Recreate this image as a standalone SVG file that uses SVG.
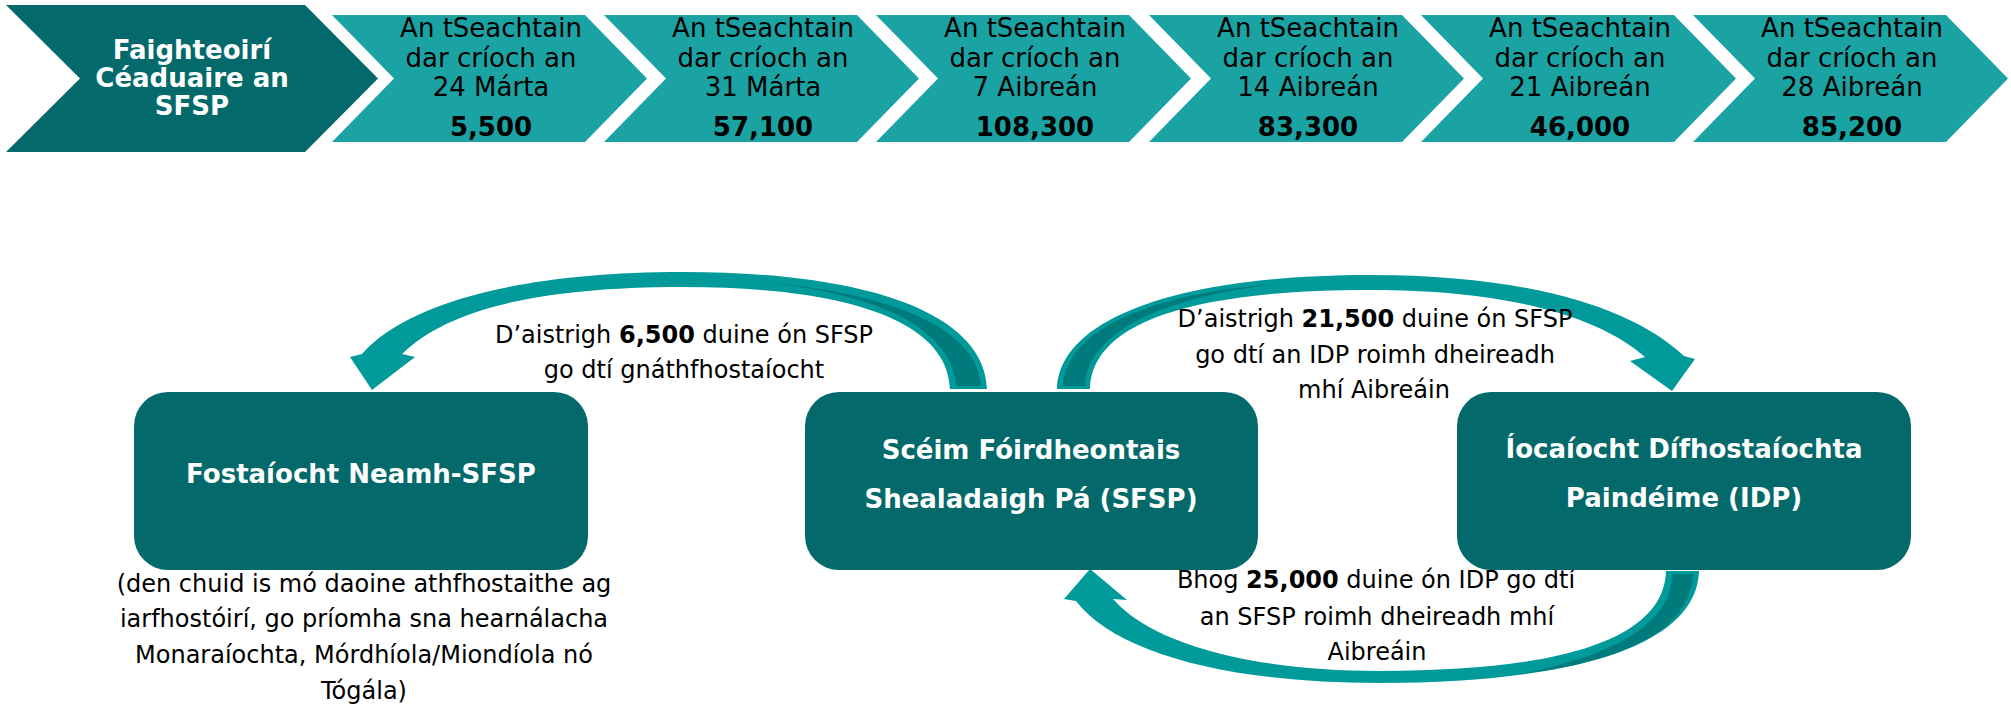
<svg xmlns="http://www.w3.org/2000/svg" width="2011" height="707" viewBox="0 0 2011 707">
<style>
.dark{fill:#03696A}
.light{fill:#1BA3A4}
.arrow{fill:#009A9A}
.arrowin{fill:#007B7B}
text{font-family:"DejaVu Sans","Liberation Sans",sans-serif;text-anchor:middle}
.ct{font-size:26px;fill:#000}
.cn{font-size:26px;font-weight:bold;fill:#000}
.hd{font-size:26px;font-weight:bold;fill:#fff}
.bx{font-size:26px;font-weight:bold;fill:#fff}
.cap{font-size:24px;fill:#000}
.b{font-weight:bold}
</style>
<g id="header">
<polygon class="dark" points="6,5 305,5 378,78.5 305,152 6,152 80,78.5"/>
<text class="hd" x="192" y="59">Faighteoirí</text>
<text class="hd" x="192" y="87">Céaduaire an</text>
<text class="hd" x="192" y="115">SFSP</text>
</g>
<g id="week1">
<polygon class="light" points="332,15 585,15 647,78.5 585,142 332,142 394,78.5"/>
<text class="ct" x="491" y="37">An tSeachtain</text>
<text class="ct" x="491" y="67">dar críoch an</text>
<text class="ct" x="491" y="96">24 Márta</text>
<text class="cn" x="491" y="136">5,500</text>
</g>
<g id="week2">
<polygon class="light" points="604,15 857,15 919,78.5 857,142 604,142 666,78.5"/>
<text class="ct" x="763" y="37">An tSeachtain</text>
<text class="ct" x="763" y="67">dar críoch an</text>
<text class="ct" x="763" y="96">31 Márta</text>
<text class="cn" x="763" y="136">57,100</text>
</g>
<g id="week3">
<polygon class="light" points="876,15 1129,15 1191,78.5 1129,142 876,142 938,78.5"/>
<text class="ct" x="1035" y="37">An tSeachtain</text>
<text class="ct" x="1035" y="67">dar críoch an</text>
<text class="ct" x="1035" y="96">7 Aibreán</text>
<text class="cn" x="1035" y="136">108,300</text>
</g>
<g id="week4">
<polygon class="light" points="1149,15 1402,15 1464,78.5 1402,142 1149,142 1211,78.5"/>
<text class="ct" x="1308" y="37">An tSeachtain</text>
<text class="ct" x="1308" y="67">dar críoch an</text>
<text class="ct" x="1308" y="96">14 Aibreán</text>
<text class="cn" x="1308" y="136">83,300</text>
</g>
<g id="week5">
<polygon class="light" points="1421,15 1674,15 1736,78.5 1674,142 1421,142 1483,78.5"/>
<text class="ct" x="1580" y="37">An tSeachtain</text>
<text class="ct" x="1580" y="67">dar críoch an</text>
<text class="ct" x="1580" y="96">21 Aibreán</text>
<text class="cn" x="1580" y="136">46,000</text>
</g>
<g id="week6">
<polygon class="light" points="1693,15 1946,15 2008,78.5 1946,142 1693,142 1755,78.5"/>
<text class="ct" x="1852" y="37">An tSeachtain</text>
<text class="ct" x="1852" y="67">dar críoch an</text>
<text class="ct" x="1852" y="96">28 Aibreán</text>
<text class="cn" x="1852" y="136">85,200</text>
</g>
<g id="connectors">
<path class="arrow" d="M987,389 C985,318 880,272 683,272 C515,272 405,305 362,354 L350,357 L372,390 L415,357 L402,354 C445,312 530,287 683,287 C850,287 948,322 950,389 Z"/>
<path class="arrowin" d="M956,386 C953,330 880,293 760,282 C880,291 978,325 981,386 Z"/>
<path class="arrow" d="M1057,389 C1059,318 1180,275 1370,275 C1535,275 1635,310 1684,356 L1695,359 L1672,391 L1630,361 L1645,357 C1598,316 1508,290 1370,290 C1192,290 1092,322 1090,389 Z"/>
<path class="arrowin" d="M1063,386 C1066,330 1150,293 1280,284 C1170,295 1088,330 1085,386 Z"/>
<path class="arrow" d="M1699,571 C1697,647 1570,683 1379,683 C1225,683 1115,652 1076,601 L1064,599 L1090,569 L1127,600 L1113,599 C1152,644 1252,671 1379,671 C1560,671 1664,640 1666,571 Z"/>
<path class="arrowin" d="M1693,574 C1691,632 1620,662 1520,674 C1610,656 1672,626 1672,574 Z"/>
<text class="cap" x="684" y="343">D’aistrigh <tspan class="b">6,500</tspan> duine ón SFSP</text>
<text class="cap" x="684" y="378">go dtí gnáthfhostaíocht</text>
<text class="cap" x="1375" y="327">D’aistrigh <tspan class="b">21,500</tspan> duine ón SFSP</text>
<text class="cap" x="1375" y="363">go dtí an IDP roimh dheireadh</text>
<text class="cap" x="1374" y="398">mhí Aibreáin</text>
<text class="cap" x="1376" y="588">Bhog <tspan class="b">25,000</tspan> duine ón IDP go dtí</text>
<text class="cap" x="1377" y="625">an SFSP roimh dheireadh mhí</text>
<text class="cap" x="1377" y="660">Aibreáin</text>
</g>
<g id="node-fostaiocht">
<rect class="dark" x="134" y="392" width="454" height="178" rx="34" ry="34"/>
<text class="bx" x="361" y="483">Fostaíocht Neamh-SFSP</text>
<text class="cap" x="364" y="592">(den chuid is mó daoine athfhostaithe ag</text>
<text class="cap" x="364" y="627">iarfhostóirí, go príomha sna hearnálacha</text>
<text class="cap" x="364" y="663">Monaraíochta, Mórdhíola/Miondíola nó</text>
<text class="cap" x="364" y="699">Tógála)</text>
</g>
<g id="node-sfsp">
<rect class="dark" x="805" y="392" width="453" height="178" rx="34" ry="34"/>
<text class="bx" x="1031" y="459">Scéim Fóirdheontais</text>
<text class="bx" x="1031" y="508">Shealadaigh Pá (SFSP)</text>
</g>
<g id="node-idp">
<rect class="dark" x="1457" y="392" width="454" height="178" rx="34" ry="34"/>
<text class="bx" x="1684" y="458">Íocaíocht Dífhostaíochta</text>
<text class="bx" x="1684" y="507">Paindéime (IDP)</text>
</g>
</svg>
